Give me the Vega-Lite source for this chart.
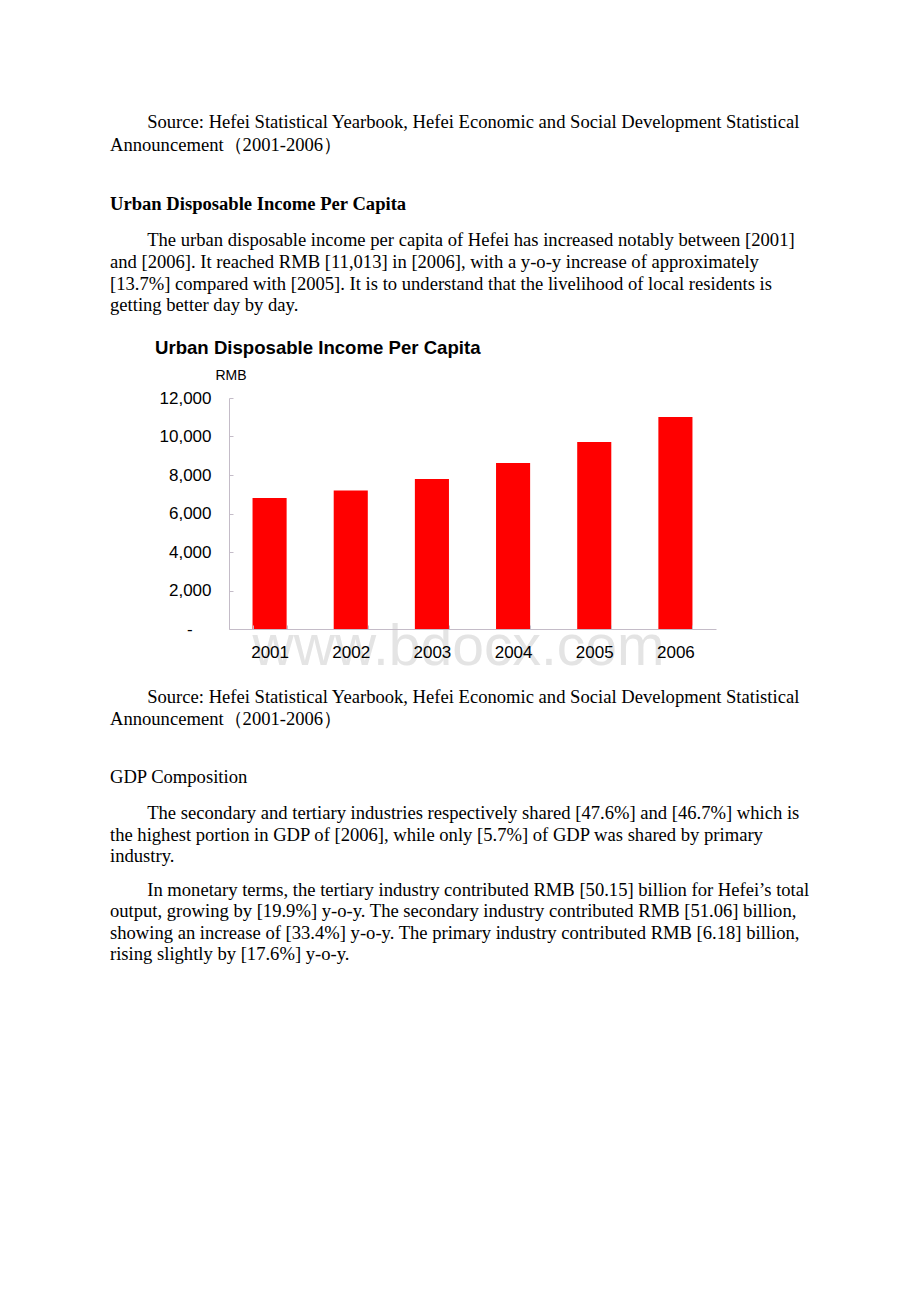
{
  "$schema": "https://vega.github.io/schema/vega-lite/v6.json",
  "background": "white",
  "autosize": {"type": "pad"},
  "padding": {"left": 110, "top": 112, "right": 0, "bottom": 0},
  "config": {
    "view": {"stroke": null},
    "concat": {"spacing": 0},
    "title": {
      "font": "Liberation Serif", "fontSize": 18.6, "fontWeight": "normal", "color": "#000000",
      "lineHeight": 22, "anchor": "start", "frame": "group", "dx": -119,
      "subtitleFont": "Liberation Serif", "subtitleFontSize": 18.6, "subtitleFontWeight": "normal",
      "subtitleColor": "#000000", "subtitleLineHeight": 21.6
    }
  },
  "vconcat": [
    {
      "title": {
        "text": ["\u200b\u2003\u2003Source: Hefei Statistical Yearbook, Hefei Economic and Social Development Statistical", "Announcement（2001-2006）"],
        "lineHeight": 23,
        "subtitle": "Urban Disposable Income Per Capita",
        "subtitleFontWeight": "bold", "subtitlePadding": 41, "offset": 16
      },
      "width": 1, "height": 1,
      "data": {"values": []},
      "mark": "text",
      "encoding": {}
    },
    {
      "title": {
        "text": ["\u200b\u2003\u2003The urban disposable income per capita of Hefei has increased notably between [2001]", "and [2006]. It reached RMB [11,013] in [2006], with a y-o-y increase of approximately", "[13.7%] compared with [2005]. It is to understand that the livelihood of local residents is", "getting better day by day."],
        "lineHeight": 21.7,
        "offset": 23
      },
      "width": 1, "height": 1,
      "data": {"values": []},
      "mark": "text",
      "encoding": {}
    },
    {
      "title": {
        "text": "Urban Disposable Income Per Capita",
        "font": "Liberation Sans", "fontSize": 18.6, "fontWeight": "bold", "dx": -74, "offset": 10
      },
      "width": 487, "height": 231,
      "data": {"values": [
        {"year": "2001", "income": 6805},
        {"year": "2002", "income": 7200},
        {"year": "2003", "income": 7790},
        {"year": "2004", "income": 8620},
        {"year": "2005", "income": 9710},
        {"year": "2006", "income": 11013}
      ]},
      "mark": {"type": "bar", "color": "#ff0000"},
      "encoding": {
        "x": {
          "field": "year", "type": "ordinal",
          "scale": {"paddingInner": 0.58, "paddingOuter": 0.29},
          "axis": {
            "zindex": 1,
            "labelAngle": 0, "labelFont": "Liberation Sans", "labelFontSize": 17, "labelColor": "#000000",
            "labelPadding": 19, "tickBand": "extent", "tickSize": -4, "tickColor": "#c4bcc8",
            "domainColor": "#c4bcc8", "grid": false,
            "title": "RMB", "titleAngle": 0, "titleAlign": "left", "titleBaseline": "middle",
            "titleAnchor": null, "titleX": -14, "titleY": -254, "titleFont": "Liberation Sans", "titleFontSize": 14,
            "titleFontWeight": "normal", "titleColor": "#000000"
          }
        },
        "y": {
          "field": "income", "type": "quantitative",
          "scale": {"domain": [0, 12000]},
          "axis": {
            "zindex": 0,
            "values": [0, 2000, 4000, 6000, 8000, 10000, 12000], "format": ",.0f",
            "labelExpr": "datum.value === 0 ? '-\u00a0\u00a0\u00a0\u00a0\u200b' : datum.label",
            "labelFont": "Liberation Sans", "labelFontSize": 17, "labelColor": "#000000",
            "labelPadding": 22, "tickSize": -4, "tickColor": "#c4bcc8", "domainColor": "#c4bcc8",
            "grid": false,
            "title": "www.bdocx.com", "titleFont": "Liberation Sans", "titleFontSize": 57,
            "titleFontWeight": "normal", "titleColor": "#e4e4e4", "titleAlign": "center", "titleAngle": 0,
            "titleAnchor": null, "titleX": 229, "titleY": 266, "titleBaseline": "alphabetic"
          }
        }
      }
    },
    {
      "title": {
        "text": ["\u200b\u2003\u2003Source: Hefei Statistical Yearbook, Hefei Economic and Social Development Statistical", "Announcement（2001-2006）"],
        "subtitle": "GDP Composition",
        "subtitlePadding": 39, "orient": "bottom", "offset": 12
      },
      "width": 1, "height": 1,
      "data": {"values": []},
      "mark": "text",
      "encoding": {}
    },
    {
      "title": {
        "text": ["\u200b\u2003\u2003The secondary and tertiary industries respectively shared [47.6%] and [46.7%] which is", "the highest portion in GDP of [2006], while only [5.7%] of GDP was shared by primary", "industry."],
        "lineHeight": 21.5,
        "subtitle": ["\u200b\u2003\u2003In monetary terms, the tertiary industry contributed RMB [50.15] billion for Hefei’s total", "output, growing by [19.9%] y-o-y. The secondary industry contributed RMB [51.06] billion,", "showing an increase of [33.4%] y-o-y. The primary industry contributed RMB [6.18] billion,", "rising slightly by [17.6%] y-o-y."],
        "subtitlePadding": 15, "orient": "bottom", "offset": 16
      },
      "width": 1, "height": 1,
      "data": {"values": []},
      "mark": "text",
      "encoding": {}
    }
  ]
}
